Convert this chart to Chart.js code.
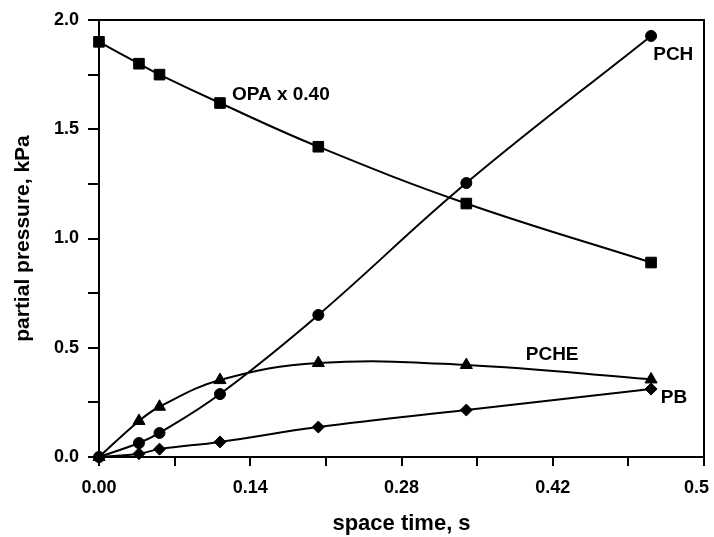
<!DOCTYPE html>
<html>
<head>
<meta charset="utf-8">
<script src="https://cdn.jsdelivr.net/npm/chart.js@4"></script>
<style>
  html, body { margin: 0; padding: 0; background: #fff; }
  #wrap { width: 714px; height: 537px; }
</style>
</head>
<body>
<div id="wrap"><canvas id="c" width="714" height="537"></canvas></div>
<script>
// ---- data ----
const spaceTime = [0, 0.037, 0.056, 0.112, 0.203, 0.340, 0.511];
const opaScaled = [1.90, 1.80, 1.75, 1.62, 1.42, 1.16, 0.89];
const pch       = [0, 0.064, 0.11, 0.288, 0.65, 1.254, 1.927];
const pche      = [0, 0.165, 0.23, 0.352, 0.43, 0.421, 0.355];
const pb        = [0, 0.015, 0.036, 0.069, 0.137, 0.215, 0.311];

const xTickLabels = ['0.00', '', '0.14', '', '0.28', '', '0.42', '', '0.5   '];
const yTickLabels = ['0.0', '', '0.5', '', '1.0', '', '1.5', '', '2.0'];

const seriesNames = ['OPA x 0.40', 'PCH', 'PCHE', 'PB'];
// label anchor points (data coordinates) for the in-plot series names
const noteX = [0.123, 0.513, 0.395, 0.520];
const noteY = [1.657, 1.84, 0.467, 0.27];

const FONT = '"Liberation Sans", Arial, Helvetica, sans-serif';

function pts(ys) { return spaceTime.map((x, i) => ({ x: x, y: ys[i] })); }

const baseDs = {
  borderColor: '#000', backgroundColor: '#000', borderWidth: 2,
  pointBorderWidth: 1, pointBorderColor: '#000', pointBackgroundColor: '#000',
  tension: 0.4, clip: false, fill: false
};

const notesPlugin = {
  id: 'notes',
  afterDatasetsDraw(chart) {
    const ctx = chart.ctx, xs = chart.scales.x, ys = chart.scales.y;
    ctx.save();
    ctx.fillStyle = '#000';
    ctx.font = 'bold 19px ' + FONT;
    ctx.textAlign = 'left';
    ctx.textBaseline = 'middle';
    seriesNames.forEach((t, i) => {
      ctx.fillText(t, xs.getPixelForValue(noteX[i]), ys.getPixelForValue(noteY[i]));
    });
    ctx.restore();
  }
};

new Chart(document.getElementById('c'), {
  type: 'line',
  data: {
    datasets: [
      Object.assign({}, baseDs, { label: seriesNames[0], data: pts(opaScaled), pointStyle: 'rect', pointRadius: 7.5 }),
      Object.assign({}, baseDs, { label: seriesNames[1], data: pts(pch), pointStyle: 'circle', pointRadius: 5.5 }),
      Object.assign({}, baseDs, { label: seriesNames[2], data: pts(pche), pointStyle: 'triangle', pointRadius: 7 }),
      Object.assign({}, baseDs, { label: seriesNames[3], data: pts(pb), pointStyle: 'rectRot', pointRadius: 6 })
    ]
  },
  options: {
    responsive: false,
    animation: false,
    devicePixelRatio: 1,
    layout: { padding: { top: 20, right: 10, left: 0, bottom: 0 } },
    plugins: { legend: { display: false }, tooltip: { enabled: false } },
    scales: {
      x: {
        type: 'linear', position: 'bottom', min: 0, max: 0.56,
        ticks: {
          stepSize: 0.07, autoSkip: false, maxRotation: 0, minRotation: 0,
          color: '#000', padding: 11, font: { family: FONT, size: 18, weight: 'bold' },
          callback: (v, i) => xTickLabels[i]
        },
        grid: { drawOnChartArea: false, drawTicks: true, tickLength: 9, color: '#000', lineWidth: 2 },
        border: { display: true, color: '#000', width: 2 },
        title: { display: true, text: 'space time, s', color: '#000',
                 font: { family: FONT, size: 22, weight: 'bold' }, padding: { top: 10, bottom: 0 } },
        afterFit(s) { s.height = 80; s.paddingLeft = 0; s.paddingRight = 0; }
      },
      y: {
        type: 'linear', position: 'left', min: 0, max: 2,
        ticks: {
          stepSize: 0.25, autoSkip: false,
          color: '#000', padding: 9, font: { family: FONT, size: 18, weight: 'bold' },
          callback: (v, i) => yTickLabels[i]
        },
        grid: { drawOnChartArea: false, drawTicks: true, tickLength: 11, color: '#000', lineWidth: 2 },
        border: { display: true, color: '#000', width: 2 },
        title: { display: true, text: 'partial pressure, kPa', color: '#000',
                 font: { family: FONT, size: 21, weight: 'bold' }, padding: { top: 11, bottom: 0 } },
        afterFit(s) { s.width = 99; s.paddingTop = 0; s.paddingBottom = 0; }
      },
      x2: {
        type: 'linear', position: 'top', min: 0, max: 0.56,
        ticks: { display: false }, grid: { display: false, drawTicks: false },
        border: { display: true, color: '#000', width: 2 }
      },
      y2: {
        type: 'linear', position: 'right', min: 0, max: 2,
        ticks: { display: false }, grid: { display: false, drawTicks: false },
        border: { display: true, color: '#000', width: 2 }
      }
    }
  },
  plugins: [notesPlugin]
});
</script>
</body>
</html>
